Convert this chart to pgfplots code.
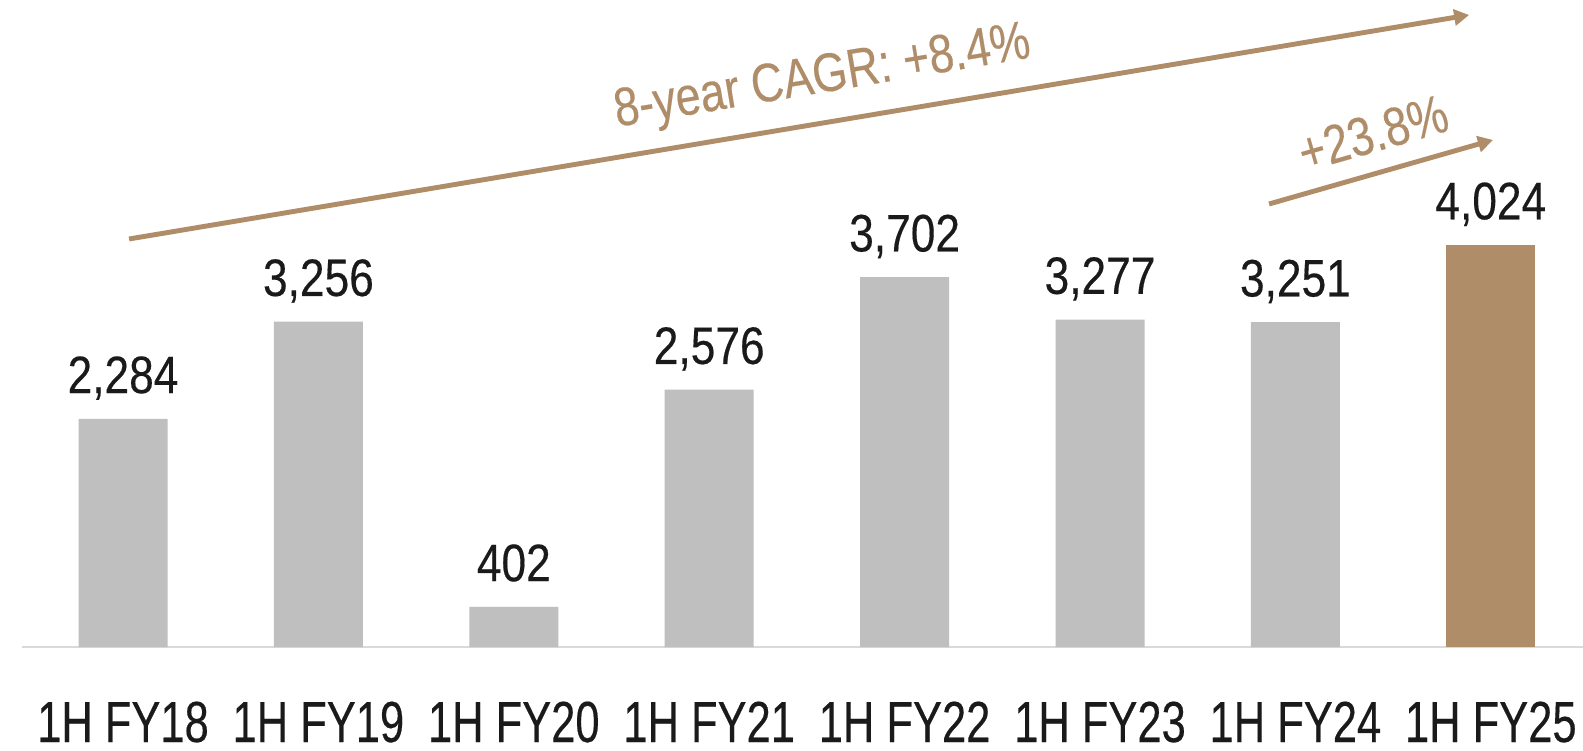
\documentclass[border=0pt]{standalone}
\usepackage{fontspec}
\setmainfont{Liberation Sans}[FakeStretch=0.82,FakeBold=0.3]
\newfontfamily\lblfont{Liberation Sans}[FakeStretch=0.84,FakeBold=0.3]
\newfontfamily\tckfont{Liberation Sans}[FakeStretch=0.75,FakeBold=0.3]
\usepackage{pgfplots}
\pgfplotsset{compat=1.18}
\usetikzlibrary{arrows.meta}
\definecolor{barg}{HTML}{BFBFBF}
\definecolor{gold}{HTML}{B08D69}
\definecolor{ink}{HTML}{1A1A1A}
\definecolor{basec}{HTML}{D9D9D9}
\begin{document}
\begin{tikzpicture}
\useasboundingbox (0,0) rectangle (15.83cm,7.5cm);
\begin{axis}[
 at={(0.22cm,1.03cm)}, anchor=south west,
 scale only axis, width=15.61cm, height=6.47cm,
 xmin=-0.517, xmax=7.472, ymin=0, ymax=6476,
 axis x line=bottom, axis y line=none,
 x axis line style={draw=basec, line width=0.6pt, -},
 xtick={0,...,7},
 xticklabels={1H FY18,1H FY19,1H FY20,1H FY21,1H FY22,1H FY23,1H FY24,1H FY25},
 major tick length=0pt,
 xticklabel style={anchor=base, yshift=-0.95cm, inner sep=0pt, font=\tckfont\fontsize{16.5}{19}\selectfont, text=ink},
 ybar, bar width=0.89cm,
 nodes near coords={\pgfmathprintnumber[assume math mode=true]{\pgfplotspointmeta}},
 every node near coord/.append style={font=\lblfont\fontsize{15}{17}\selectfont, text=ink, inner sep=0pt, text depth=0pt, yshift=0.25cm},
 clip=false,
]
\addplot[fill=barg, draw=none, bar shift=0pt] coordinates {(0,2284) (1,3256) (2,402) (3,2576) (4,3702) (5,3277) (6,3251)};
\addplot[fill=gold, draw=none, bar shift=0pt] coordinates {(7,4024)};
\draw[gold, line width=1.4pt, -{Triangle[length=0.15cm,width=0.16cm]}] (axis cs:0.031,4084) -- (axis cs:6.889,6326);
\draw[gold, line width=1.4pt, -{Triangle[length=0.15cm,width=0.16cm]}] (axis cs:5.865,4434) -- (axis cs:7.011,5075);
\node[gold, rotate=9.5, inner sep=0pt, font=\fontsize{15.5}{18}\selectfont] at (axis cs:3.58,5686) {8-year CAGR: +8.4\%};
\node[gold, rotate=16, inner sep=0pt, font=\fontsize{15.5}{18}\selectfont] at (axis cs:6.397,5145) {+23.8\%};
\end{axis}
\end{tikzpicture}
\end{document}
